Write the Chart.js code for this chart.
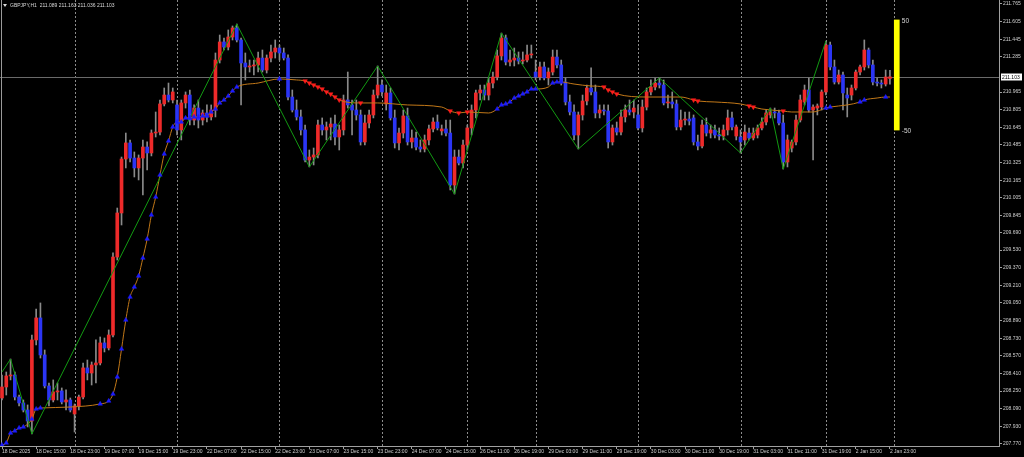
<!DOCTYPE html>
<html>
<head>
<meta charset="utf-8">
<script src="https://cdn.jsdelivr.net/npm/chart.js@4.4.1/dist/chart.umd.min.js"></script>
<style>
html, body { margin: 0; padding: 0; background: #000; }
#wrap { width: 1024px; height: 457px; }
</style>
</head>
<body>
<div id="wrap"><canvas id="myChart" width="1024" height="457"></canvas></div>
<script>
const symbolHeader = "GBPJPY,H1  211.089 211.163 211.036 211.103";

const timeLabels = ["18 Dec 2025", "18 Dec 15:00", "18 Dec 23:00", "19 Dec 07:00", "19 Dec 15:00", "19 Dec 23:00",
    "22 Dec 07:00", "22 Dec 15:00", "22 Dec 23:00", "23 Dec 07:00", "23 Dec 15:00", "23 Dec 23:00",
    "24 Dec 07:00", "24 Dec 15:00", "26 Dec 11:00", "26 Dec 19:00", "29 Dec 03:00", "29 Dec 11:00",
    "29 Dec 19:00", "30 Dec 03:00", "30 Dec 11:00", "30 Dec 19:00", "31 Dec 03:00", "31 Dec 11:00",
    "31 Dec 19:00", "2 Jan 15:00", "2 Jan 23:00"];
const barsPerLabel = 8;

const priceTicks = [211.765, 211.605, 211.445, 211.285, 210.965, 210.805, 210.645, 210.485, 210.325,
    210.165, 210.005, 209.845, 209.690, 209.530, 209.370, 209.210, 209.050, 208.890, 208.730,
    208.570, 208.410, 208.250, 208.090, 207.930, 207.770];

// day separators (bar index of first bar of each day)
const separatorBars = [17, 41, 65, 89, 109, 125, 149, 173, 193, 209];

const opens = [
    208.187, 208.287, 208.387, 208.396, 208.196, 208.142, 208.078, 207.978, 208.714, 208.914,
    208.578, 208.296, 208.169, 208.242, 208.251, 208.151, 208.169, 208.042, 208.115, 208.196,
    208.460, 208.414, 208.487, 208.505, 208.687, 208.641, 208.759, 209.467, 209.867, 210.357,
    210.503, 210.366, 210.276, 210.366, 210.466, 210.412, 210.593, 210.602, 210.857, 210.938,
    210.893, 210.848, 210.621, 210.866, 210.938, 210.711, 210.820, 210.711, 210.775, 210.739,
    210.802, 211.256, 211.420, 211.374, 211.465, 211.547, 211.438, 211.229, 211.193, 211.202,
    211.211, 211.274, 211.165, 211.274, 211.329, 211.365, 211.320, 211.274, 210.920, 210.802,
    210.739, 210.621, 210.348, 210.375, 210.394, 210.666, 210.621, 210.648, 210.675, 210.557,
    210.621, 210.893, 210.848, 210.802, 210.757, 210.512, 210.684, 210.757, 210.938, 211.029,
    210.857, 210.957, 210.730, 210.503, 210.593, 210.748, 210.512, 210.548, 210.466, 210.448,
    210.530, 210.630, 210.693, 210.612, 210.630, 210.593, 210.121, 210.375, 210.321, 210.484,
    210.639, 210.802, 210.957, 210.984, 210.938, 211.047, 211.102, 211.293, 211.456, 211.238,
    211.256, 211.274, 211.247, 211.256, 211.302, 211.147, 211.102, 211.193, 211.093, 211.147,
    211.283, 211.211, 211.056, 210.875, 210.784, 210.575, 210.757, 210.884, 211.002, 210.966,
    210.775, 210.802, 210.793, 210.512, 210.639, 210.602, 210.739, 210.802, 210.784, 210.757,
    210.639, 210.829, 210.966, 211.011, 211.047, 211.029, 210.866, 210.875, 210.857, 210.648,
    210.711, 210.720, 210.730, 210.512, 210.475, 210.666, 210.593, 210.621, 210.575, 210.566,
    210.621, 210.730, 210.566, 210.557, 210.530, 210.593, 210.548, 210.575, 210.639, 210.693,
    210.757, 210.784, 210.775, 210.684, 210.330, 210.457, 210.512, 210.711, 210.875, 210.984,
    210.802, 210.820, 210.829, 210.966, 211.392, 211.193, 211.056, 211.120, 210.938, 210.938,
    211.002, 211.147, 211.193, 211.347, 211.211, 211.056, 211.047, 211.038, 211.089
];
const highs = [
    208.396, 208.423, 208.541, 208.423, 208.214, 208.169, 208.124, 208.759, 208.995, 209.050,
    208.623, 208.323, 208.351, 208.323, 208.278, 208.260, 208.187, 208.133, 208.214, 208.505,
    208.532, 208.514, 208.714, 208.741, 208.732, 208.805, 209.504, 209.912, 210.375, 210.593,
    210.530, 210.421, 210.394, 210.530, 210.512, 210.621, 210.784, 210.893, 211.002, 211.047,
    211.002, 210.893, 210.893, 210.966, 210.984, 210.848, 210.893, 210.802, 210.848, 210.848,
    211.320, 211.483, 211.456, 211.529, 211.565, 211.583, 211.456, 211.320, 211.256, 211.256,
    211.329, 211.347, 211.302, 211.392, 211.438, 211.392, 211.365, 211.302, 210.984, 210.893,
    210.802, 210.666, 210.439, 210.457, 210.711, 210.730, 210.693, 210.730, 210.757, 210.666,
    210.938, 211.147, 210.893, 210.893, 210.802, 210.757, 210.802, 210.984, 211.202, 211.075,
    211.029, 211.002, 210.802, 210.639, 210.802, 210.820, 210.621, 210.602, 210.530, 210.575,
    210.666, 210.730, 210.757, 210.666, 210.711, 210.711, 210.439, 210.439, 210.530, 210.666,
    210.848, 210.984, 211.029, 211.029, 211.093, 211.147, 211.347, 211.501, 211.483, 211.347,
    211.365, 211.329, 211.329, 211.392, 211.392, 211.256, 211.238, 211.238, 211.184, 211.347,
    211.347, 211.256, 211.093, 210.938, 210.848, 210.784, 210.938, 211.029, 211.184, 211.029,
    210.848, 210.848, 210.848, 210.666, 210.693, 210.802, 210.848, 210.893, 210.893, 210.848,
    210.893, 211.002, 211.075, 211.093, 211.093, 211.075, 210.938, 210.966, 210.893, 210.802,
    210.784, 210.784, 210.757, 210.575, 210.711, 210.730, 210.666, 210.666, 210.639, 210.666,
    210.802, 210.784, 210.666, 210.621, 210.666, 210.639, 210.639, 210.666, 210.730, 210.802,
    210.820, 210.820, 210.802, 210.757, 210.575, 210.530, 210.757, 210.938, 211.029, 211.093,
    210.848, 210.857, 210.984, 211.429, 211.420, 211.256, 211.165, 211.147, 211.002, 211.029,
    211.165, 211.211, 211.438, 211.365, 211.256, 211.093, 211.075, 211.165, 211.163
];
const lows = [
    208.169, 208.214, 208.351, 208.169, 208.115, 208.060, 207.924, 207.860, 208.668, 208.550,
    208.278, 208.115, 208.151, 208.169, 208.133, 208.078, 208.060, 207.878, 208.078, 208.178,
    208.351, 208.305, 208.323, 208.487, 208.605, 208.623, 208.741, 209.440, 209.758, 210.276,
    210.330, 210.194, 210.167, 210.030, 210.257, 210.385, 210.557, 210.575, 210.839, 210.875,
    210.866, 210.575, 210.530, 210.820, 210.666, 210.666, 210.639, 210.666, 210.693, 210.711,
    210.739, 211.229, 211.347, 211.347, 211.438, 211.420, 210.848, 211.075, 211.147, 211.120,
    211.147, 211.147, 211.138, 211.238, 211.274, 211.256, 211.256, 210.893, 210.784, 210.711,
    210.575, 210.330, 210.285, 210.303, 210.366, 210.575, 210.530, 210.530, 210.484, 210.439,
    210.575, 210.820, 210.575, 210.711, 210.484, 210.484, 210.639, 210.730, 210.911, 210.929,
    210.802, 210.711, 210.457, 210.439, 210.548, 210.484, 210.457, 210.439, 210.421, 210.421,
    210.484, 210.602, 210.621, 210.575, 210.566, 210.076, 210.039, 210.303, 210.276, 210.439,
    210.575, 210.730, 210.893, 210.893, 210.893, 211.002, 211.075, 211.256, 211.211, 211.202,
    211.202, 211.220, 211.220, 211.238, 211.274, 211.075, 211.075, 211.075, 211.029, 211.120,
    211.184, 211.029, 210.848, 210.757, 210.530, 210.448, 210.711, 210.848, 210.938, 210.730,
    210.730, 210.757, 210.457, 210.484, 210.575, 210.575, 210.693, 210.757, 210.730, 210.621,
    210.602, 210.802, 210.938, 210.984, 211.002, 210.848, 210.820, 210.820, 210.621, 210.621,
    210.666, 210.666, 210.484, 210.439, 210.457, 210.566, 210.548, 210.548, 210.530, 210.530,
    210.575, 210.621, 210.530, 210.412, 210.484, 210.530, 210.530, 210.548, 210.621, 210.666,
    210.730, 210.730, 210.666, 210.266, 210.285, 210.421, 210.484, 210.693, 210.848, 210.784,
    210.348, 210.757, 210.802, 210.938, 211.165, 211.038, 211.038, 210.802, 210.739, 210.893,
    210.984, 211.120, 211.165, 211.184, 211.029, 211.020, 211.002, 211.020, 211.036
];
const closes = [
    208.287, 208.387, 208.396, 208.196, 208.142, 208.078, 207.978, 208.714, 208.914, 208.578,
    208.296, 208.169, 208.242, 208.251, 208.151, 208.169, 208.078, 208.115, 208.196, 208.460,
    208.414, 208.487, 208.505, 208.687, 208.641, 208.759, 209.467, 209.867, 210.357, 210.503,
    210.366, 210.276, 210.366, 210.466, 210.412, 210.593, 210.602, 210.857, 210.938, 210.893,
    210.966, 210.621, 210.866, 210.938, 210.711, 210.820, 210.711, 210.775, 210.739, 210.802,
    211.256, 211.420, 211.374, 211.465, 211.547, 211.438, 211.229, 211.193, 211.202, 211.211,
    211.274, 211.165, 211.274, 211.329, 211.365, 211.320, 211.274, 210.920, 210.802, 210.739,
    210.621, 210.348, 210.375, 210.394, 210.666, 210.621, 210.648, 210.675, 210.557, 210.621,
    210.893, 210.848, 210.802, 210.757, 210.512, 210.684, 210.757, 210.938, 211.029, 210.966,
    210.957, 210.730, 210.503, 210.593, 210.748, 210.512, 210.548, 210.466, 210.448, 210.530,
    210.630, 210.693, 210.639, 210.630, 210.593, 210.121, 210.375, 210.321, 210.484, 210.639,
    210.802, 210.957, 210.984, 210.938, 211.047, 211.102, 211.293, 211.456, 211.238, 211.256,
    211.274, 211.247, 211.256, 211.302, 211.311, 211.102, 211.193, 211.093, 211.147, 211.283,
    211.211, 211.056, 210.875, 210.784, 210.575, 210.757, 210.884, 211.002, 210.966, 210.775,
    210.802, 210.793, 210.512, 210.639, 210.602, 210.739, 210.802, 210.784, 210.820, 210.639,
    210.829, 210.966, 211.011, 211.047, 211.029, 210.866, 210.875, 210.857, 210.648, 210.711,
    210.720, 210.702, 210.512, 210.475, 210.666, 210.593, 210.621, 210.575, 210.566, 210.621,
    210.730, 210.648, 210.648, 210.512, 210.602, 210.548, 210.593, 210.639, 210.693, 210.775,
    210.784, 210.775, 210.684, 210.330, 210.530, 210.512, 210.711, 210.893, 210.984, 210.802,
    210.829, 210.839, 210.966, 211.392, 211.193, 211.056, 211.120, 210.957, 210.911, 211.002,
    211.147, 211.193, 211.347, 211.211, 211.056, 211.047, 211.038, 211.102, 211.103
];

// moving average, read at these bars
const maBars = [0, 1, 2, 3, 4, 5, 7, 8, 9, 16, 23, 25, 26, 27, 28, 29, 30, 31, 32, 33,
    34, 35, 36, 37, 38, 39, 40, 41, 42, 43, 44, 45, 46, 47, 48, 49, 50, 51, 52, 53,
    54, 55, 60, 65, 69, 71, 72, 73, 74, 75, 76, 77, 78, 79, 84, 88, 95, 103, 105, 107,
    109, 114, 116, 117, 118, 119, 120, 121, 122, 123, 124, 125, 128, 129, 130, 131, 134, 138, 141, 142,
    143, 144, 151, 159, 162, 163, 167, 173, 175, 176, 178, 183, 185, 190, 193, 194, 198, 201, 202, 205,
    207, 208];
const maValues = [207.760, 207.779, 207.869, 207.888, 207.915, 207.924, 207.996, 208.087, 208.096, 208.105,
    208.133, 208.160, 208.223, 208.378, 208.632, 208.895, 209.104, 209.195, 209.295, 209.458,
    209.631, 209.849, 210.012, 210.212, 210.403, 210.521, 210.648, 210.693, 210.693, 210.730,
    210.730, 210.739, 210.739, 210.748, 210.748, 210.784, 210.811, 210.866, 210.893, 210.929,
    210.975, 211.011, 211.047, 211.084, 211.075, 211.066, 211.047, 211.029, 211.011, 210.993,
    210.966, 210.947, 210.920, 210.893, 210.866, 210.866, 210.848, 210.829, 210.793, 210.775,
    210.784, 210.775, 210.811, 210.848, 210.857, 210.875, 210.911, 210.929, 210.948, 210.966,
    210.993, 210.993, 211.011, 211.047, 211.056, 211.056, 211.038, 211.020, 211.011, 210.984,
    210.966, 210.948, 210.920, 210.920, 210.893, 210.884, 210.875, 210.857, 210.839, 210.829,
    210.811, 210.793, 210.784, 210.784, 210.820, 210.829, 210.848, 210.875, 210.893, 210.911,
    210.920, 210.920];

const upArrowBars = [0, 1, 2, 3, 4, 5, 7, 8, 9, 23, 25, 26, 27, 28, 29, 30, 31, 32, 33, 34,
    35, 36, 37, 38, 39, 40, 41, 42, 43, 44, 45, 46, 47, 48, 49, 50, 51, 52, 53, 54, 55, 65,
    116, 117, 118, 119, 120, 121, 122, 123, 124, 125, 129, 130, 131, 193, 194, 201, 202, 207];
const downArrowBars = [71, 72, 73, 74, 75, 76, 77, 78, 79, 84, 105, 107, 109, 141, 142, 143, 144,
    162, 163, 175, 176, 183];

const zigzagBars = [0, 2, 7, 55, 72, 88, 106, 117, 135, 154, 173, 180, 183, 193];
const zigzagValues = [208.423, 208.541, 207.860, 211.583, 210.285, 211.202, 210.039, 211.501,
    210.448, 211.093, 210.412, 210.820, 210.266, 211.429];

const gaugeBar = 209.6;
const gaugeRange = [210.62, 211.62];
const gaugeLabels = ["50", "-50"];

const upColor = '#ee2a2a';
const downColor = '#2b35f5';
const lastClose = closes[closes.length - 1];
const fontFamily = "'Liberation Sans', Arial, sans-serif";

const barIdx = closes.map((c, i) => i);
const maLookup = b => maValues[maBars.indexOf(b)];

const overlay = {
    id: 'overlay',
    beforeDatasetsDraw(chart) {
        const { ctx, chartArea: a, scales: { x, y } } = chart;
        ctx.save();
        ctx.lineWidth = 1;
        ctx.strokeStyle = '#8c8c8c';
        ctx.setLineDash([2, 2]);
        separatorBars.forEach(b => {
            const px = Math.round(x.getPixelForValue(b)) + 0.5;
            ctx.beginPath();
            ctx.moveTo(px, a.top);
            ctx.lineTo(px, a.bottom);
            ctx.stroke();
        });
        ctx.setLineDash([]);
        const py = Math.round(y.getPixelForValue(lastClose)) + 0.5;
        ctx.strokeStyle = '#6a6a6a';
        ctx.beginPath();
        ctx.moveTo(a.left, py);
        ctx.lineTo(a.right, py);
        ctx.stroke();
        ctx.strokeStyle = '#9a9a9a';
        ctx.beginPath();
        ctx.moveTo(a.left + 1.5, a.top);
        ctx.lineTo(a.left + 1.5, a.bottom);
        ctx.stroke();
        ctx.restore();
    },
    afterDraw(chart) {
        const { ctx, chartArea: a, scales: { x, y } } = chart;
        ctx.save();
        // header
        ctx.fillStyle = '#d8d8d8';
        ctx.beginPath();
        ctx.moveTo(3, 4);
        ctx.lineTo(7, 4);
        ctx.lineTo(5, 7);
        ctx.closePath();
        ctx.fill();
        ctx.font = '5px ' + fontFamily;
        ctx.textBaseline = 'middle';
        ctx.fillText(symbolHeader, 10, 6);
        // gauge labels
        const gx = x.getPixelForValue(gaugeBar) + 5;
        ctx.font = '6.5px ' + fontFamily;
        ctx.fillText(gaugeLabels[0], gx, y.getPixelForValue(gaugeRange[1]) + 1);
        ctx.fillText(gaugeLabels[1], gx, y.getPixelForValue(gaugeRange[0]) + 1);
        // last price box
        const py = Math.round(y.getPixelForValue(lastClose));
        ctx.fillStyle = '#ffffff';
        ctx.fillRect(a.right + 2, py - 3.5, 21, 7);
        ctx.fillStyle = '#000000';
        ctx.font = '5px ' + fontFamily;
        ctx.fillText(lastClose.toFixed(3), a.right + 3, py + 0.5);
        ctx.restore();
    }
};

Chart.defaults.font.family = fontFamily;
Chart.defaults.font.size = 5;
Chart.defaults.color = '#d0d0d0';

const noPad = s => {
    s.paddingTop = 0;
    s.paddingBottom = 0;
    s.paddingLeft = 0;
    s.paddingRight = 0;
};

const ctx = document.getElementById('myChart').getContext('2d');
const chart = new Chart(ctx, {
    type: 'bar',
    data: {
        datasets: [
            {
                type: 'line',
                label: 'ZigZag',
                data: zigzagBars.map((b, k) => ({ x: b, y: zigzagValues[k] })),
                borderColor: '#129a12',
                borderWidth: 1,
                pointRadius: 0,
                order: 1
            },
            {
                type: 'line',
                label: 'MA',
                data: maBars.map((b, k) => ({ x: b, y: maValues[k] })),
                borderColor: '#c27818',
                borderWidth: 1,
                pointRadius: 0,
                cubicInterpolationMode: 'monotone',
                order: 2
            },
            {
                type: 'line',
                label: 'up',
                data: upArrowBars.map(b => ({ x: b, y: maLookup(b) })),
                showLine: false,
                pointStyle: 'triangle',
                pointRadius: 2.6,
                pointBackgroundColor: '#1c1cff',
                pointBorderColor: '#1c1cff',
                pointBorderWidth: 0.5,
                order: 0
            },
            {
                type: 'line',
                label: 'down',
                data: downArrowBars.map(b => ({ x: b, y: maLookup(b) })),
                showLine: false,
                pointStyle: 'triangle',
                rotation: 180,
                pointRadius: 2.6,
                pointBackgroundColor: '#ff1c1c',
                pointBorderColor: '#ff1c1c',
                pointBorderWidth: 0.5,
                order: 0
            },
            {
                label: 'gauge',
                data: [{ x: gaugeBar, y: gaugeRange }],
                backgroundColor: '#ffff00',
                barThickness: 5,
                grouped: false,
                order: 3
            },
            {
                label: 'bodies',
                data: barIdx.map(i => ({ x: i, y: [Math.min(opens[i], closes[i]), Math.max(opens[i], closes[i])] })),
                backgroundColor: barIdx.map(i => closes[i] >= opens[i] ? upColor : downColor),
                barThickness: 3,
                minBarLength: 1,
                grouped: false,
                order: 4
            },
            {
                label: 'wicks',
                data: barIdx.map(i => ({ x: i, y: [lows[i], highs[i]] })),
                backgroundColor: '#8a8a8a',
                barThickness: 1,
                grouped: false,
                order: 5
            }
        ]
    },
    options: {
        responsive: false,
        maintainAspectRatio: false,
        animation: false,
        layout: { padding: 0, autoPadding: false },
        plugins: { legend: { display: false }, tooltip: { enabled: false } },
        scales: {
            x: {
                type: 'linear',
                min: -0.47,
                max: 233.55,
                offset: false,
                afterBuildTicks: s => { s.ticks = timeLabels.map((t, k) => ({ value: k * barsPerLabel })); },
                afterFit: s => { s.height = 11; noPad(s); },
                ticks: {
                    autoSkip: false,
                    maxRotation: 0,
                    align: 'start',
                    padding: 0,
                    color: '#d0d0d0',
                    callback: (v, i) => timeLabels[i]
                },
                grid: { drawOnChartArea: false, offset: false, tickLength: 3, color: '#a0a0a0' },
                border: { color: '#a0a0a0' }
            },
            y: {
                type: 'linear',
                position: 'right',
                min: 207.751,
                max: 211.801,
                afterBuildTicks: s => { s.ticks = priceTicks.map(v => ({ value: v })); },
                afterFit: s => { s.width = 25; noPad(s); },
                ticks: {
                    padding: 1,
                    color: '#d0d0d0',
                    callback: v => v.toFixed(3)
                },
                grid: { drawOnChartArea: false, tickLength: 3, color: '#a0a0a0' },
                border: { color: '#a0a0a0' }
            }
        }
    },
    plugins: [overlay]
});
</script>
</body>
</html>
